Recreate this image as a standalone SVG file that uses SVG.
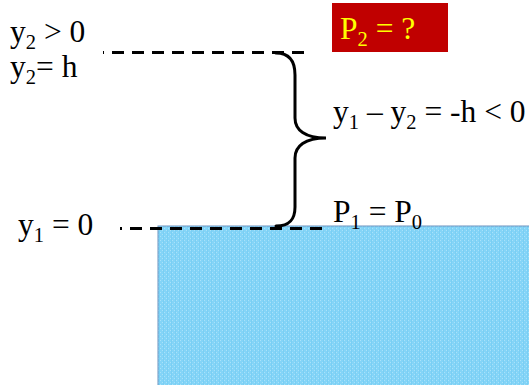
<svg xmlns="http://www.w3.org/2000/svg" width="529" height="385" viewBox="0 0 529 385">
  <style>
    .t { font-family: "Liberation Serif", "Times New Roman", serif; font-size: 31.5px; fill: #000; }
    .sub { font-size: 20.5px; }
    .dash { fill: none; stroke: #000; stroke-width: 3; stroke-dasharray: 12 8; }
    .brace { fill: none; stroke: #000; stroke-width: 3; stroke-linecap: round; }
  </style>
  <defs>
    <pattern id="water" width="4" height="4" patternUnits="userSpaceOnUse">
      <rect width="4" height="4" fill="#84d4f7"/>
      <rect x="0" y="0" width="1" height="1" fill="#a8e2fa"/>
      <rect x="2" y="2" width="1" height="1" fill="#a8e2fa"/>
      <rect x="3" y="0" width="1" height="4" fill="#7acff4"/>
    </pattern>
  </defs>
  <rect width="529" height="385" fill="#fff"/>

  <g id="water-body">
    <rect x="158" y="226" width="380" height="170" fill="url(#water)" stroke="#6d93c0" stroke-width="1"/>
  </g>

  <g id="connectors">
    <path class="dash" d="M304,52.5 L103,52.5"/>
    <path class="dash" d="M322,228.5 L120,228.5"/>
    <path class="brace" d="M276,53 C290,53 295,62 295,75 L295,118 C295,130 305,138 326,138 C305,138 295,146 295,158 L295,207 C295,219 290,226 276,226"/>
  </g>

  <g id="label-y2-pos">
    <text class="t" x="10" y="42">y<tspan class="sub" dy="7">2</tspan><tspan dy="-7"> &gt; 0</tspan></text>
  </g>
  <g id="label-y2-h">
    <text class="t" x="10" y="77">y<tspan class="sub" dy="7">2</tspan><tspan dy="-7">= h</tspan></text>
  </g>
  <g id="label-p2">
    <rect x="332" y="3" width="116" height="49" fill="#c00000"/>
    <text class="t" x="340" y="39" style="fill:#ffff00">P<tspan class="sub" dy="7">2</tspan><tspan dy="-7"> = ?</tspan></text>
  </g>
  <g id="label-diff">
    <text class="t" x="333" y="122">y<tspan class="sub" dy="7">1</tspan><tspan dy="-7"> – y</tspan><tspan class="sub" dy="7">2</tspan><tspan dy="-7"> = -h &lt; 0</tspan></text>
  </g>
  <g id="label-p1">
    <text class="t" x="333" y="222">P<tspan class="sub" dy="7">1</tspan><tspan dy="-7"> = P</tspan><tspan class="sub" dy="7">0</tspan></text>
  </g>
  <g id="label-y1">
    <text class="t" x="18" y="235">y<tspan class="sub" dy="7">1</tspan><tspan dy="-7"> = 0</tspan></text>
  </g>
</svg>
